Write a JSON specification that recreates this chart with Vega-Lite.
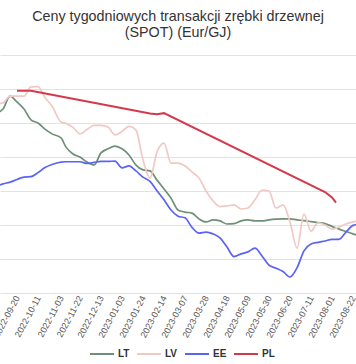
{
  "$schema": "https://vega.github.io/schema/vega-lite/v6.json",
  "width": 356,
  "height": 238,
  "autosize": {"type": "none"},
  "padding": {"top": 55, "left": 0, "right": 0, "bottom": 71},
  "background": "white",
  "title": {
    "text": ["Ceny tygodniowych transakcji zrębki drzewnej", "(SPOT) (Eur/GJ)"],
    "font": "Liberation Sans",
    "fontSize": 14.3,
    "fontWeight": "normal",
    "color": "#333333",
    "anchor": "middle",
    "baseline": "bottom",
    "offset": 1,
    "lineHeight": 16
  },
  "data": {
    "values": [
      {"date": "2022-08-30", "LT": 7.29, "LV": 7.56, "EE": 5.13},
      {"date": "2022-09-06", "LT": 7.41, "LV": 7.59, "EE": 5.21},
      {"date": "2022-09-13", "LT": 7.79, "LV": 7.79, "EE": 5.26},
      {"date": "2022-09-20", "LT": 7.62, "LV": 7.79, "EE": 5.34, "PL": 7.95},
      {"date": "2022-09-27", "LT": 7.41, "LV": 7.79, "EE": 5.41},
      {"date": "2022-10-04", "LT": 7.09, "LV": 8.06, "EE": 5.42, "PL": 7.95},
      {"date": "2022-10-11", "LT": 7.00, "LV": 8.07, "EE": 5.54},
      {"date": "2022-10-18", "LT": 6.82, "LV": 7.75, "EE": 5.69},
      {"date": "2022-10-25", "LT": 6.68, "LV": 7.50, "EE": 5.78},
      {"date": "2022-11-03", "LT": 6.56, "LV": 7.03, "EE": 5.85},
      {"date": "2022-11-08", "LT": 6.29, "LV": 6.99, "EE": 5.86},
      {"date": "2022-11-15", "LT": 6.09, "LV": 6.87, "EE": 5.86},
      {"date": "2022-11-22", "LT": 6.00, "LV": 6.68, "EE": 5.86},
      {"date": "2022-11-29", "LT": 5.85, "LV": 6.81, "EE": 5.81},
      {"date": "2022-12-06", "LT": 5.76, "LV": 6.93, "EE": 5.84},
      {"date": "2022-12-13", "LT": 6.12, "LV": 6.93, "EE": 5.87},
      {"date": "2022-12-20", "LT": 6.24, "LV": 6.88, "EE": 5.87},
      {"date": "2022-12-27", "LT": 6.32, "LV": 6.65, "EE": 5.88},
      {"date": "2023-01-03", "LT": 6.24, "LV": 6.75, "EE": 5.68},
      {"date": "2023-01-10", "LT": 6.06, "LV": 6.90, "EE": 5.74},
      {"date": "2023-01-17", "LT": 5.76, "LV": 6.79, "EE": 5.59},
      {"date": "2023-01-24", "LT": 5.62, "LV": 5.91, "EE": 5.41},
      {"date": "2023-01-31", "LT": 5.59, "LV": 5.38, "EE": 5.28, "PL": 7.28},
      {"date": "2023-02-07", "LT": 5.32, "LV": 6.15, "EE": 5.01, "PL": 7.26},
      {"date": "2023-02-14", "LT": 5.06, "LV": 6.41, "EE": 4.74, "PL": 7.29},
      {"date": "2023-02-21", "LT": 4.79, "LV": 5.82, "EE": 4.44},
      {"date": "2023-02-28", "LT": 4.44, "LV": 5.82, "EE": 4.26},
      {"date": "2023-03-07", "LT": 4.38, "LV": 5.74, "EE": 4.21},
      {"date": "2023-03-14", "LT": 4.35, "LV": 5.56, "EE": 3.93},
      {"date": "2023-03-21", "LT": 4.18, "LV": 5.38, "EE": 3.76},
      {"date": "2023-03-28", "LT": 4.09, "LV": 5.00, "EE": 3.79},
      {"date": "2023-04-04", "LT": 4.15, "LV": 4.71, "EE": 3.74},
      {"date": "2023-04-11", "LT": 4.12, "LV": 4.54, "EE": 3.62},
      {"date": "2023-04-18", "LT": 4.03, "LV": 4.56, "EE": 3.35},
      {"date": "2023-04-25", "LT": 4.04, "LV": 4.59, "EE": 3.07},
      {"date": "2023-05-02", "LT": 4.12, "LV": 4.47, "EE": 3.15},
      {"date": "2023-05-09", "LT": 4.15, "LV": 4.50, "EE": 3.21},
      {"date": "2023-05-16", "LT": 4.12, "LV": 4.74, "EE": 3.32},
      {"date": "2023-05-23", "LT": 4.12, "LV": 5.03, "EE": 3.09},
      {"date": "2023-05-30", "LT": 4.15, "LV": 5.00, "EE": 2.82},
      {"date": "2023-06-06", "LT": 4.17, "LV": 4.50, "EE": 2.73},
      {"date": "2023-06-13", "LT": 4.18, "LV": 4.59, "EE": 2.63},
      {"date": "2023-06-20", "LT": 4.18, "LV": 4.09, "EE": 2.47},
      {"date": "2023-06-27", "LT": 4.15, "LV": 3.32, "EE": 2.74},
      {"date": "2023-07-04", "LT": 4.13, "LV": 4.32, "EE": 3.24},
      {"date": "2023-07-11", "LT": 4.10, "LV": 3.82, "EE": 3.44},
      {"date": "2023-07-18", "LT": 4.07, "LV": 4.06, "EE": 3.49},
      {"date": "2023-07-25", "LT": 4.04, "LV": 4.00, "EE": 3.53, "PL": 4.97},
      {"date": "2023-08-01", "LT": 3.96, "LV": 3.88, "EE": 3.58, "PL": 4.81},
      {"date": "2023-08-05", "PL": 4.66},
      {"date": "2023-08-08", "LT": 3.88, "LV": 3.94, "EE": 3.58},
      {"date": "2023-08-15", "LT": 3.81, "LV": 4.03, "EE": 3.79},
      {"date": "2023-08-22", "LT": 3.74, "LV": 4.09, "EE": 3.99},
      {"date": "2023-08-29", "LT": 3.68, "LV": 4.12, "EE": 4.03}
    ],
    "format": {"parse": {"date": "date:'%Y-%m-%d'"}}
  },
  "transform": [
    {"fold": ["LT", "LV", "EE", "PL"], "as": ["kraj", "cena"]},
    {"filter": "isValid(datum.cena)"}
  ],
  "encoding": {
    "x": {
      "field": "date",
      "type": "temporal",
      "scale": {"domain": [{"year": 2022, "month": 9, "date": 3}, {"year": 2023, "month": 8, "date": 25}]},
      "axis": {
        "title": null,
        "values": [
          {"year": 2022, "month": 9, "date": 20},
          {"year": 2022, "month": 10, "date": 11},
          {"year": 2022, "month": 11, "date": 3},
          {"year": 2022, "month": 11, "date": 22},
          {"year": 2022, "month": 12, "date": 13},
          {"year": 2023, "month": 1, "date": 3},
          {"year": 2023, "month": 1, "date": 24},
          {"year": 2023, "month": 2, "date": 14},
          {"year": 2023, "month": 3, "date": 7},
          {"year": 2023, "month": 3, "date": 28},
          {"year": 2023, "month": 4, "date": 18},
          {"year": 2023, "month": 5, "date": 9},
          {"year": 2023, "month": 5, "date": 30},
          {"year": 2023, "month": 6, "date": 20},
          {"year": 2023, "month": 7, "date": 11},
          {"year": 2023, "month": 8, "date": 1},
          {"year": 2023, "month": 8, "date": 22}
        ],
        "format": "%Y-%m-%d",
        "labelAngle": -62,
        "labelAlign": "right",
        "labelBaseline": "middle",
        "labelFont": "Liberation Sans",
        "labelFontSize": 9,
        "labelColor": "#555555",
        "labelPadding": 3,
        "labelFlush": false,
        "labelOverlap": false,
        "labelBound": false,
        "ticks": false,
        "domain": false,
        "grid": false
      }
    },
    "y": {
      "field": "cena",
      "type": "quantitative",
      "scale": {"domain": [2, 9], "nice": false, "zero": false},
      "axis": {
        "title": null,
        "labels": false,
        "ticks": false,
        "domain": false,
        "grid": true,
        "gridColor": "#e2e2e2",
        "gridWidth": 1,
        "values": [2, 3, 4, 5, 6, 7, 8, 9]
      }
    },
    "color": {
      "field": "kraj",
      "type": "nominal",
      "scale": {"domain": ["LT", "LV", "EE", "PL"], "range": ["#6f8f76", "#f0c9c5", "#5b63f7", "#d6384b"]},
      "legend": {
        "title": null,
        "orient": "none",
        "legendX": 89,
        "legendY": 286,
        "direction": "horizontal",
        "symbolType": "stroke",
        "symbolSize": 576,
        "symbolStrokeWidth": 2,
        "labelFont": "Liberation Sans",
        "labelFontSize": 10,
        "labelFontWeight": "bold",
        "labelColor": "#333333",
        "labelOffset": 3,
        "columnPadding": 3,
        "padding": 0
      }
    }
  },
  "layer": [
    {
      "transform": [{"filter": "datum.kraj !== 'PL'"}],
      "mark": {"type": "line", "interpolate": "monotone", "strokeWidth": 1.7, "clip": true}
    },
    {
      "transform": [{"filter": "datum.kraj === 'PL'"}],
      "mark": {"type": "line", "strokeWidth": 2, "clip": true}
    }
  ],
  "config": {"view": {"stroke": null}}
}
